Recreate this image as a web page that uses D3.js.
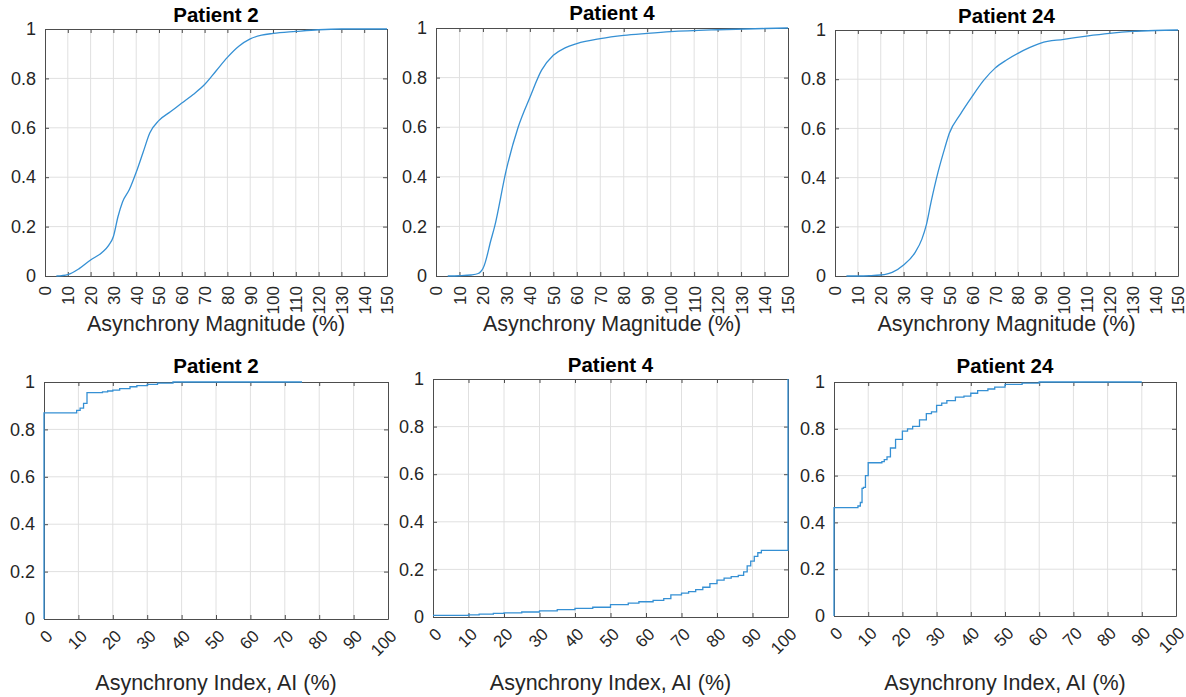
<!DOCTYPE html>
<html>
<head>
<meta charset="utf-8">
<script src="https://cdn.jsdelivr.net/npm/d3@7"></script>
<style>
  body { margin: 0; background: #fff; }
  svg { display: block; font-family: "Liberation Sans", Arial, sans-serif; }
</style>
</head>
<body>
<script>
// --- data ---
let magX2 = [5, 10, 15, 20, 25, 28, 30, 32, 34, 37, 40, 43, 46, 50, 55, 60, 65, 70, 75, 80, 85, 90, 95, 100, 110, 120, 130, 150];
let magY2 = [0, 0.006, 0.03, 0.065, 0.095, 0.125, 0.16, 0.24, 0.3, 0.35, 0.42, 0.5, 0.58, 0.63, 0.665, 0.7, 0.735, 0.775, 0.83, 0.885, 0.93, 0.96, 0.975, 0.982, 0.99, 0.997, 1, 1];

let magX4 = [5, 10, 15, 18, 19, 20, 21, 22, 23, 25, 30, 35, 40, 45, 50, 55, 60, 70, 80, 90, 100, 120, 140, 150];
let magY4 = [0, 0.001, 0.004, 0.01, 0.017, 0.03, 0.055, 0.09, 0.13, 0.2, 0.43, 0.6, 0.72, 0.83, 0.89, 0.92, 0.937, 0.957, 0.97, 0.978, 0.985, 0.993, 0.998, 1];

let magX24 = [5, 10, 15, 20, 25, 30, 35, 38, 40, 42, 45, 48, 50, 55, 60, 65, 70, 75, 80, 85, 90, 100, 110, 120, 130, 140, 150];
let magY24 = [0, 0, 0.001, 0.004, 0.015, 0.045, 0.095, 0.15, 0.21, 0.3, 0.42, 0.52, 0.58, 0.66, 0.73, 0.795, 0.845, 0.878, 0.905, 0.928, 0.947, 0.962, 0.975, 0.986, 0.994, 0.998, 1];

let aiX2 = [0, 0, 9.5, 10.5, 11.5, 12.5, 17, 18.5, 20, 22, 25, 27, 30, 33, 37.5, 75];
let aiY2 = [0, 0.87, 0.88, 0.89, 0.91, 0.955, 0.958, 0.962, 0.966, 0.972, 0.98, 0.985, 0.99, 0.995, 1, 1];

let aiX4 = [0, 10, 13, 17, 20, 25, 30, 35, 40, 45, 50, 55, 58, 62, 65, 67, 70, 72, 74, 76, 78, 80, 82, 84, 86, 87.5, 88.5, 89.5, 90.5, 91.5, 92.5, 100];
let aiY4 = [0.007, 0.009, 0.012, 0.015, 0.017, 0.021, 0.026, 0.031, 0.036, 0.041, 0.052, 0.058, 0.064, 0.07, 0.077, 0.093, 0.1, 0.107, 0.115, 0.125, 0.14, 0.155, 0.163, 0.17, 0.175, 0.19, 0.215, 0.235, 0.255, 0.27, 0.28, 1];

let aiX24 = [0, 0, 7, 7.7, 8.2, 8.6, 9.2, 10, 14, 14.7, 15.5, 16.5, 18, 20, 21.5, 23, 25, 27, 28.5, 30, 31.5, 33, 35.5, 38, 40, 42, 45, 47, 50, 55, 60, 90];
let aiY24 = [0, 0.463, 0.47, 0.485, 0.545, 0.55, 0.6, 0.655, 0.66, 0.668, 0.68, 0.718, 0.755, 0.79, 0.8, 0.81, 0.838, 0.865, 0.872, 0.9, 0.91, 0.92, 0.935, 0.94, 0.952, 0.963, 0.97, 0.978, 0.99, 0.995, 1, 1];

let magTicks = d3.range(0, 151, 10);
let aiTicks = d3.range(0, 101, 10);
let yTicks = [0, 0.2, 0.4, 0.6, 0.8, 1];

let magLabel = "Asynchrony Magnitude (%)";
let aiLabel = "Asynchrony Index, AI (%)";

let width = 1186,
  height = 697;

let lineColor = "#3590d4",
  axisColor = "#4d4d4d",
  textColor = "#262626",
  gridColor = "#e0e0e0";

let panels = [
  { title: "Patient 2", xs: magX2, ys: magY2, max: 150, ticks: magTicks, label: magLabel, step: false,
    box: { l: 45, r: 387, t: 29, b: 276 }, titleY: 22, labelY: 331 },
  { title: "Patient 4", xs: magX4, ys: magY4, max: 150, ticks: magTicks, label: magLabel, step: false,
    box: { l: 436, r: 788, t: 28, b: 276 }, titleY: 20, labelY: 331 },
  { title: "Patient 24", xs: magX24, ys: magY24, max: 150, ticks: magTicks, label: magLabel, step: false,
    box: { l: 835, r: 1178, t: 30, b: 276 }, titleY: 23, labelY: 331 },
  { title: "Patient 2", xs: aiX2, ys: aiY2, max: 100, ticks: aiTicks, label: aiLabel, step: true,
    box: { l: 44, r: 388, t: 382, b: 619 }, titleY: 373, labelY: 690 },
  { title: "Patient 4", xs: aiX4, ys: aiY4, max: 100, ticks: aiTicks, label: aiLabel, step: true,
    box: { l: 433, r: 788, t: 379, b: 617 }, titleY: 372, labelY: 690 },
  { title: "Patient 24", xs: aiX24, ys: aiY24, max: 100, ticks: aiTicks, label: aiLabel, step: true,
    box: { l: 834, r: 1176, t: 382, b: 616 }, titleY: 373, labelY: 690 }
];

let svg = d3.select("body").append("svg")
  .attr("width", width)
  .attr("height", height);

svg.append("rect").attr("width", width).attr("height", height).attr("fill", "#fff");

function yFormat(d) {
  return (d === 0 || d === 1) ? String(d) : d.toFixed(1);
}

panels.forEach(function(p) {
  let b = p.box;
  let x = d3.scaleLinear().domain([0, p.max]).range([b.l, b.r]);
  let y = d3.scaleLinear().domain([0, 1]).range([b.b, b.t]);
  let g = svg.append("g");

  // grid
  g.selectAll(".vgrid").data(p.ticks.slice(1, -1)).enter().append("line")
    .attr("x1", d => x(d)).attr("x2", d => x(d))
    .attr("y1", b.t).attr("y2", b.b)
    .attr("stroke", gridColor);
  g.selectAll(".hgrid").data(yTicks.slice(1, -1)).enter().append("line")
    .attr("x1", b.l).attr("x2", b.r)
    .attr("y1", d => y(d)).attr("y2", d => y(d))
    .attr("stroke", gridColor);

  // axes, ticks inward on all four sides
  let bottom = g.append("g").attr("transform", "translate(0," + b.b + ")")
    .call(d3.axisBottom(x).tickValues(p.ticks).tickSize(-4).tickSizeOuter(0));
  let left = g.append("g").attr("transform", "translate(" + b.l + ",0)")
    .call(d3.axisLeft(y).tickValues(yTicks).tickFormat(yFormat).tickSize(-4).tickSizeOuter(0).tickPadding(9));
  g.append("g").attr("transform", "translate(0," + b.t + ")")
    .call(d3.axisTop(x).tickValues(p.ticks).tickSize(-4).tickSizeOuter(0).tickFormat(""));
  g.append("g").attr("transform", "translate(" + b.r + ",0)")
    .call(d3.axisRight(y).tickValues(yTicks).tickSize(-4).tickSizeOuter(0).tickFormat(""));

  g.selectAll(".domain, .tick line").attr("stroke", axisColor);

  left.selectAll("text")
    .attr("fill", textColor)
    .style("font-size", "18px");

  if (!p.step) {
    bottom.selectAll("text")
      .attr("fill", textColor)
      .style("font-size", "17px")
      .attr("text-anchor", "end")
      .attr("transform", "rotate(-90)")
      .attr("x", -10).attr("y", 0)
      .attr("dy", "0.35em");
  } else {
    bottom.selectAll("text")
      .attr("fill", textColor)
      .style("font-size", "17px")
      .attr("text-anchor", "end")
      .attr("transform", "translate(5,14) rotate(-45)")
      .attr("x", 0).attr("y", 0)
      .attr("dy", "0.35em");
  }

  // curve
  let pts = p.xs.map((v, i) => [v, p.ys[i]]);
  let line = d3.line()
    .x(d => x(d[0]))
    .y(d => y(d[1]))
    .curve(p.step ? d3.curveStepAfter : d3.curveMonotoneX);
  g.append("path")
    .datum(pts)
    .attr("d", line)
    .attr("fill", "none")
    .attr("stroke", lineColor)
    .attr("stroke-width", 1.3);

  // title and x label
  g.append("text")
    .attr("x", (b.l + b.r) / 2).attr("y", p.titleY)
    .attr("text-anchor", "middle")
    .style("font-size", "20.5px").style("font-weight", "bold")
    .attr("fill", "#000")
    .text(p.title);
  g.append("text")
    .attr("x", (b.l + b.r) / 2).attr("y", p.labelY)
    .attr("text-anchor", "middle")
    .style("font-size", "21.5px")
    .attr("fill", textColor)
    .text(p.label);
});
</script>
</body>
</html>
